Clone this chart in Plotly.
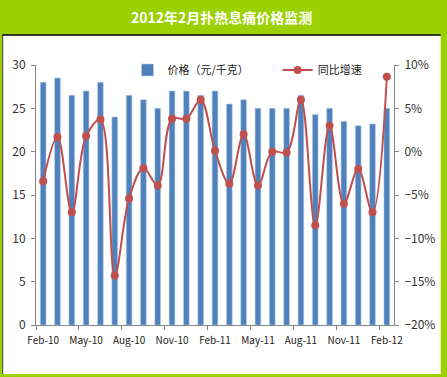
import plotly.graph_objects as go

months = ["Feb-10","Mar-10","Apr-10","May-10","Jun-10","Jul-10","Aug-10","Sep-10","Oct-10",
          "Nov-10","Dec-10","Jan-11","Feb-11","Mar-11","Apr-11","May-11","Jun-11","Jul-11",
          "Aug-11","Sep-11","Oct-11","Nov-11","Dec-11","Jan-12","Feb-12"]
price = [28, 28.5, 26.5, 27, 28, 24, 26.5, 26, 25, 27, 27, 26.5, 27, 25.5, 26, 25, 25, 25,
         26.5, 24.3, 25, 23.5, 23, 23.2, 25]
yoy = [-3.4, 1.7, -7.0, 1.8, 3.7, -14.3, -5.4, -1.9, -3.9, 3.8, 3.8, 6.0, 0.1, -3.7, 2.0,
       -3.9, 0.0, -0.1, 6.0, -8.5, 3.0, -6.0, -2.0, -7.0, 8.65]

W, H = 447, 377
L, R, T, B = 36, 396, 65, 325
def px(x): return (x - L) / (R - L)
def py(y): return (B - y) / (B - T)

GREEN = "#9BD100"
FONT = "Noto Sans CJK SC"

fig = go.Figure()
fig.add_trace(go.Bar(x=months, y=price, name="价格（元/千克）",
                     marker=dict(color="#4F81BD", line=dict(color="#B9CDE5", width=0.6)),
                     yaxis="y", legend="legend"))
fig.add_trace(go.Scatter(x=months, y=yoy, name="同比增速", mode="lines+markers",
                         line=dict(color="#C0504D", width=2, shape="spline", smoothing=1),
                         marker=dict(color="#C0504D", size=8), yaxis="y2", legend="legend2"))

leg_common = dict(orientation="h", yanchor="middle", bgcolor="rgba(0,0,0,0)",
                  font=dict(size=11, color="#222222"), itemwidth=30)

fig.update_layout(
    width=W, height=H,
    margin=dict(l=L, r=W - R, t=T, b=H - B, pad=0),
    paper_bgcolor=GREEN, plot_bgcolor="white",
    font=dict(family=FONT, size=11, color="#333333"),
    bargap=0.6,
    showlegend=True,
    legend=dict(x=px(128), y=py(70), xanchor="left", **leg_common),
    legend2=dict(x=px(279), y=py(70), xanchor="left", **leg_common),
    xaxis=dict(type="category", dtick=3, tickson="boundaries", ticks="outside",
               ticklen=4, tickcolor="#868686", showline=True, linecolor="#868686",
               linewidth=1, showgrid=False, tickangle=0, ticklabelstandoff=6,
               tickfont=dict(size=10, color="#222222"),
               range=[-0.5, 24.5]),
    yaxis=dict(range=[0, 30], dtick=5, ticks="outside", ticklen=4, tickcolor="#868686",
               showline=True, linecolor="#868686", linewidth=1, showgrid=False, zeroline=False,
               ticklabelstandoff=3, tickfont=dict(size=12, color="#333333")),
    yaxis2=dict(range=[-20, 10], dtick=5, ticksuffix="%", overlaying="y", side="right",
                ticks="outside", ticklen=4, tickcolor="#868686", showline=True,
                linecolor="#868686", linewidth=1, showgrid=False, zeroline=False,
                ticklabelstandoff=3, tickfont=dict(size=12, color="#333333")),
    shapes=[
        dict(type="rect", xref="paper", yref="paper", x0=px(2), x1=px(443), y0=py(374), y1=py(35),
             fillcolor="white", line=dict(width=0), layer="below"),
        dict(type="line", xref="paper", yref="paper", x0=px(2), x1=px(443), y0=py(35), y1=py(35),
             line=dict(color="black", width=1.5)),
        dict(type="line", xref="paper", yref="paper", x0=px(2.5), x1=px(2.5), y0=py(374), y1=py(35),
             line=dict(color="#333333", width=1)),
    ],
    annotations=[
        dict(text="<b>2012年2月扑热息痛价格监测</b>", xref="paper", yref="paper",
             x=px(223), y=py(17), xanchor="center", yanchor="middle", showarrow=False,
             font=dict(family=FONT, size=14, color="white")),
    ],
)

fig.write_html("out.html", config={"displayModeBar": False},
               post_script="document.body.style.margin='0';document.body.style.overflow='hidden';")
